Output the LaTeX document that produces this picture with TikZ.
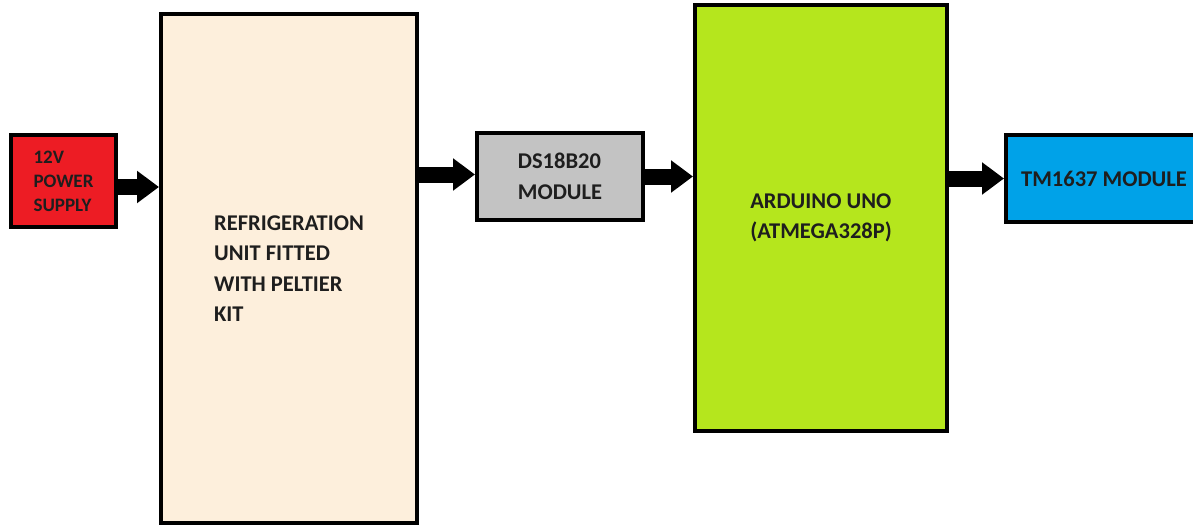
\documentclass[tikz,border=0pt]{standalone}
\usepackage{fontspec}
\setmainfont{Carlito}
\usepackage{tikz}
\usetikzlibrary{arrows.meta, positioning}
\definecolor{psured}{HTML}{ED1C24}
\definecolor{fridgecream}{HTML}{FDEFDC}
\definecolor{sensorgray}{HTML}{C3C3C3}
\definecolor{unolime}{HTML}{B5E61D}
\definecolor{dispblue}{HTML}{00A2E8}
\definecolor{labeltext}{HTML}{1E1E1E}

\begin{document}
\begin{tikzpicture}[
    x=1pt, y=-1pt,
    block/.style={rectangle, draw=black, line width=4pt, inner sep=0pt, align=left,
        text=labeltext, font=\bfseries\fontsize{22.5}{30.5}\selectfont},
    flow/.style={draw=black, line width=16pt, -{Triangle[width=31pt,length=22pt]}},
]
\clip (0,0) rectangle (1193,527);
\fill[white] (0,0) rectangle (1193,527);

% Blocks
\node[block, fill=psured, minimum width=105pt, minimum height=92pt,
      font=\bfseries\fontsize{19}{24}\selectfont] (psu) at (63.5,181) {12V\\POWER\\SUPPLY};
\node[block, fill=fridgecream, minimum width=256pt, minimum height=509pt] (fridge) at (289,268.5)
      {REFRIGERATION\\UNIT FITTED\\WITH PELTIER\\KIT};
\node[block, fill=sensorgray, minimum width=166pt, minimum height=87pt] (ds) at (560,176.5)
      {DS18B20\\MODULE};
\node[block, fill=unolime, minimum width=252pt, minimum height=426pt] (uno) at (821,218)
      {ARDUINO UNO\\(ATMEGA328P)};
\node[block, fill=dispblue, minimum width=196pt, minimum height=87pt] (tm) at (1104,178.5)
      {TM1637 MODULE};

% Arrows
\draw[flow] ([yshift=-6pt]psu.east) -- ([yshift=-6pt]psu.east -| fridge.west);
\draw[flow] ([yshift=2pt]ds.west -| fridge.east) -- ([yshift=2pt]ds.west);
\draw[flow] (ds.east) -- (ds.east -| uno.west);
\draw[flow] (tm.west -| uno.east) -- (tm.west);

\end{tikzpicture}
\end{document}
